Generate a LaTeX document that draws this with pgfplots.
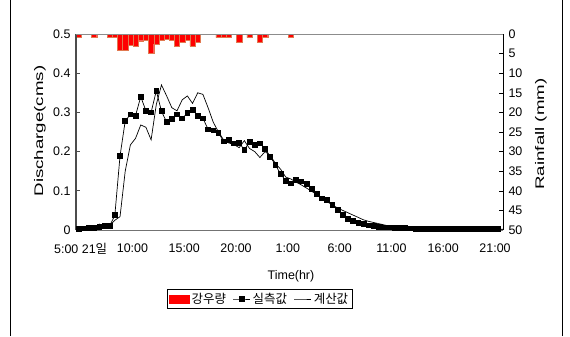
\documentclass[border=0pt]{standalone}
\usepackage{fontspec}
\setmainfont{Liberation Sans}
\newfontfamily\kr{Noto Sans CJK KR}
\usepackage{pgfplots}
\pgfplotsset{compat=1.18}
\definecolor{rainred}{RGB}{255,0,0}
\definecolor{rainedge}{RGB}{225,120,80}
\pgfplotstableread{
x val
-0.2 0.002
0.3 0.004
0.8 0.005
1.3 0.005
1.8 0.008
2.3 0.010
2.8 0.010
3.3 0.038
3.8 0.189
4.3 0.278
4.8 0.295
5.3 0.292
5.8 0.340
6.3 0.304
6.8 0.300
7.3 0.355
7.8 0.303
8.3 0.275
8.8 0.283
9.3 0.295
9.8 0.285
10.3 0.298
10.8 0.306
11.3 0.292
11.8 0.285
12.3 0.257
12.8 0.254
13.3 0.248
13.8 0.226
14.3 0.230
14.8 0.221
15.3 0.223
15.8 0.204
16.3 0.225
16.8 0.217
17.3 0.221
17.8 0.208
18.3 0.187
18.8 0.166
19.3 0.143
19.8 0.126
20.3 0.119
20.8 0.128
21.3 0.124
21.8 0.118
22.3 0.105
22.8 0.092
23.3 0.081
23.8 0.077
24.3 0.064
24.8 0.051
25.3 0.038
25.8 0.028
26.3 0.023
26.8 0.019
27.3 0.015
27.8 0.012
28.3 0.010
28.8 0.008
29.3 0.007
29.8 0.007
30.3 0.006
30.8 0.006
31.3 0.005
31.8 0.004
32.3 0.003
32.8 0.002
33.3 0.002
33.8 0.002
34.3 0.002
34.8 0.002
35.3 0.002
35.8 0.002
36.3 0.002
36.8 0.002
37.3 0.002
37.8 0.002
38.3 0.002
38.8 0.002
39.3 0.002
39.8 0.002
40.3 0.002
40.8 0.002
}\observed
\pgfplotstableread{
x val
-0.2 0.000
0.3 0.000
0.8 0.003
1.3 0.006
1.8 0.015
2.3 0.011
2.8 0.012
3.3 0.025
3.8 0.034
4.3 0.150
4.8 0.217
5.3 0.234
5.8 0.268
6.3 0.262
6.8 0.230
7.3 0.320
7.8 0.370
8.3 0.342
8.8 0.312
9.3 0.304
9.8 0.332
10.3 0.342
10.8 0.323
11.3 0.350
11.8 0.346
12.3 0.312
12.8 0.275
13.3 0.250
13.8 0.230
14.3 0.222
14.8 0.218
15.3 0.210
15.8 0.228
16.3 0.208
16.8 0.200
17.3 0.185
17.8 0.200
18.3 0.190
18.8 0.170
19.3 0.155
19.8 0.135
20.3 0.130
20.8 0.122
21.3 0.115
21.8 0.107
22.3 0.099
22.8 0.090
23.3 0.081
23.8 0.072
24.3 0.064
24.8 0.056
25.3 0.050
25.8 0.044
26.3 0.038
26.8 0.032
27.3 0.026
27.8 0.022
28.3 0.019
28.8 0.016
29.3 0.013
29.8 0.010
30.3 0.008
30.8 0.007
31.3 0.005
31.8 0.004
32.3 0.003
32.8 0.002
34.8 0.001
40.8 0.001
}\computed
\pgfplotstableread{
x mm
-0.2 0.9
1.3 0.9
2.8 0.9
3.3 0.9
3.8 4.1
4.3 4.1
4.8 2.8
5.3 3.0
5.8 1.7
6.3 1.5
6.8 4.9
7.3 2.5
7.8 1.5
8.3 1.3
8.8 1.5
9.3 3.0
9.8 2.0
10.3 1.5
10.8 3.0
11.3 2.0
13.3 0.9
13.8 0.9
14.3 0.9
15.3 2.1
16.3 0.9
17.3 2.1
17.8 0.9
20.3 0.9
}\rain
\begin{document}
\begin{tikzpicture}[x=1bp,y=1bp]
\useasboundingbox (0,0) rectangle (570,336);
\draw[line width=0.8bp] (10,0) -- (10,336);
\draw[line width=0.8bp] (562,0) -- (562,336);
% rainfall axis (right, reversed)
\begin{axis}[
  at={(76bp,106bp)}, anchor=south west,
  width=427bp, height=196bp, scale only axis,
  xmin=-0.45, xmax=40.77, ymin=0, ymax=50,
  y dir=reverse,
  axis x line=none,
  axis y line*=right,
  axis line style={-, black, line width=0.6bp},
  xtick=\empty,
  ytick={0,5,...,50},
  yticklabels={0,5,10,15,20,25,30,35,40,45,50},
  tick align=inside,
  major tick length=4bp,
  tick style={black, line width=0.6bp},
  yticklabel style={font=\fontsize{12.5}{13}\selectfont, xshift=2bp},
  /pgf/number format/assume math mode=true,
]
\addplot[ybar, bar width=0.5, fill=rainred, draw=rainedge, line width=0.3bp] table[x=x,y=mm] {\rain};
\end{axis}
% discharge axis (left)
\begin{axis}[
  at={(76bp,106bp)}, anchor=south west,
  width=427bp, height=196bp, scale only axis,
  xmin=-0.45, xmax=40.77, ymin=0, ymax=0.5,
  axis x line*=bottom,
  axis y line*=left,
  x axis line style={-, black!55, line width=1bp},
  y axis line style={-, black!70, line width=1.5bp},
  xtick={0,5,...,40},
  xticklabels={5:00 21{\kr 일},10:00,15:00,20:00,1:00,6:00,11:00,16:00,21:00},
  x tick style={draw=none},
  ytick={0,0.1,...,0.5},
  yticklabels={0,0.1,0.2,0.3,0.4,0.5},
  tick align=inside,
  major tick length=4bp,
  y tick style={black!70, line width=0.8bp},
  ticklabel style={font=\fontsize{12.5}{13}\selectfont},
  xticklabel style={yshift=-10bp},
  yticklabel style={xshift=-2bp},
  /pgf/number format/assume math mode=true,
  clip=true,
  legend columns=3,
  legend style={at={(0.43,-0.352)}, anchor=center, draw=black, line width=0.6bp,
    font=\fontsize{12.5}{13}\selectfont, inner xsep=2bp, inner ysep=1.5bp,
    /tikz/every even column/.append style={column sep=5bp}},
]
\draw[black!45, line width=1bp] (rel axis cs:0,1) -- (rel axis cs:1,1);
\addlegendimage{legend image code/.code={\fill[rainred] (0bp,-4bp) rectangle (20bp,4bp);}}
\addlegendentry{\kr 강우량}
\addplot[black, line width=0.7bp, mark=square*, mark size=2.4bp, mark options={solid}] table[x=x,y=val] {\observed};
\addlegendentry{\kr 실측값}
\addplot[black, line width=0.7bp, no marks] table[x=x,y=val] {\computed};
\addlegendentry{\kr 계산값}
\end{axis}
\node[font=\fontsize{12.5}{13}\selectfont] at (291,60) {Time(hr)};
\node[font=\fontsize{12.5}{13}\selectfont, rotate=90, xscale=1.5] at (40,205) {Discharge(cms)};
\node[font=\fontsize{12.5}{13}\selectfont, rotate=90, xscale=1.5] at (541,202) {Rainfall (mm)};
\end{tikzpicture}
\end{document}
